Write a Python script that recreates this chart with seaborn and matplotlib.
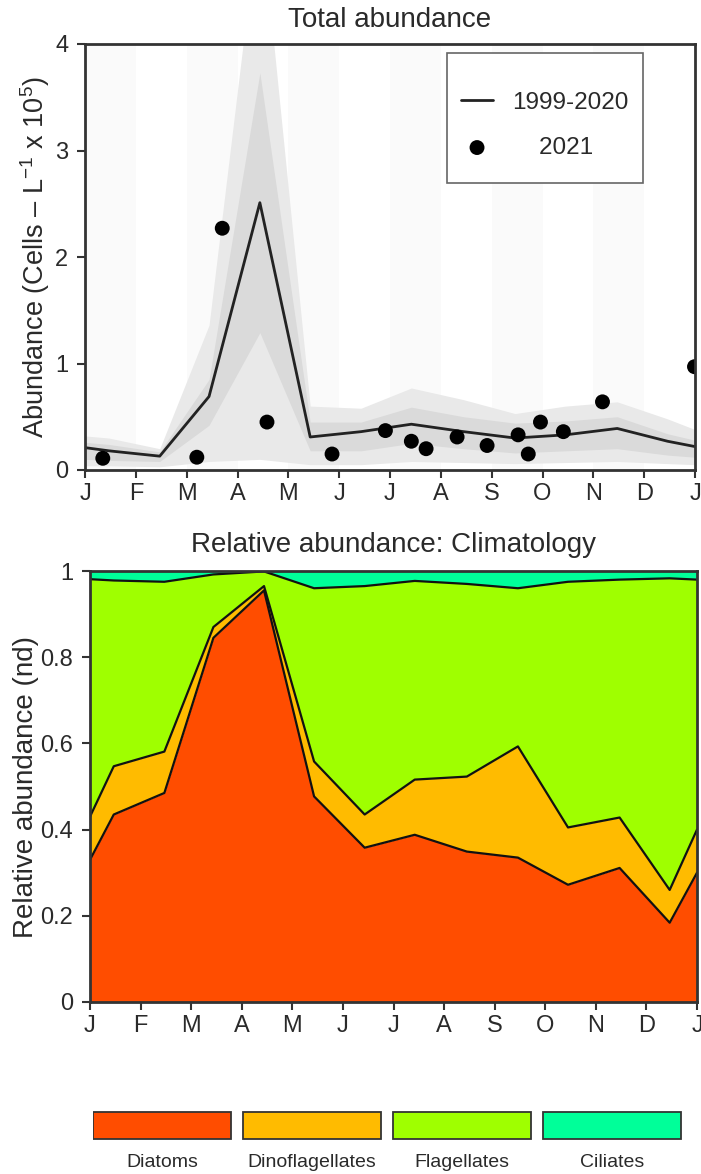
import matplotlib
matplotlib.use('Agg')
import matplotlib.pyplot as plt
from matplotlib.patches import Rectangle
import seaborn as sns
import pandas as pd

# eje de meses (inicio de cada mes) y posiciones de medio mes
month_labels = ['J', 'F', 'M', 'A', 'M', 'J', 'J', 'A', 'S', 'O', 'N', 'D', 'J']
clim_x = [0, 0.47, 1.47, 2.44, 3.44, 4.43, 5.43, 6.42, 7.45, 8.46, 9.45, 10.47, 11.46, 12]

# climatologia 1999-2020 (Cells L-1 x 1e5)
clim_mean = [0.21, 0.18, 0.13, 0.69, 2.51, 0.31, 0.36, 0.43, 0.36, 0.30, 0.33, 0.39, 0.27, 0.22]
inner_lo = [0.10, 0.09, 0.08, 0.42, 1.29, 0.18, 0.18, 0.25, 0.20, 0.16, 0.18, 0.20, 0.14, 0.12]
inner_hi = [0.26, 0.24, 0.17, 0.85, 3.73, 0.45, 0.45, 0.59, 0.50, 0.44, 0.46, 0.50, 0.34, 0.28]
outer_lo = [0.04, 0.04, 0.03, 0.08, 0.10, 0.05, 0.05, 0.08, 0.07, 0.06, 0.07, 0.08, 0.06, 0.05]
outer_hi = [0.32, 0.30, 0.20, 1.36, 5.30, 0.60, 0.58, 0.77, 0.66, 0.53, 0.60, 0.64, 0.48, 0.38]

# muestras 2021
obs_x = [0.35, 2.20, 2.70, 3.58, 4.86, 5.91, 6.42, 6.71, 7.32, 7.91, 8.52, 8.72, 8.96, 9.41, 10.18, 11.99]
obs_y = [0.11, 0.12, 2.27, 0.45, 0.15, 0.37, 0.27, 0.20, 0.31, 0.23, 0.33, 0.15, 0.45, 0.36, 0.64, 0.97]

# abundancia relativa acumulada (limites superiores de cada grupo)
groups = ['Diatoms', 'Dinoflagellates', 'Flagellates', 'Ciliates']
colors = ['#ff4d00', '#ffbb00', '#9fff00', '#00ff99']
diatoms_top = [0.33, 0.435, 0.485, 0.845, 0.955, 0.477, 0.358, 0.388, 0.349, 0.335, 0.272, 0.311, 0.184, 0.30]
dino_top = [0.43, 0.547, 0.581, 0.87, 0.965, 0.558, 0.435, 0.516, 0.523, 0.593, 0.405, 0.428, 0.26, 0.40]
flag_top = [0.981, 0.978, 0.975, 0.992, 0.999, 0.960, 0.965, 0.977, 0.970, 0.960, 0.975, 0.980, 0.983, 0.980]
cil_top = [1.0] * len(clim_x)

sns.set_theme(style='white')
plt.rcParams['font.family'] = ['Liberation Sans', 'DejaVu Sans']
plt.rcParams['mathtext.fontset'] = 'custom'
plt.rcParams['mathtext.rm'] = 'Liberation Sans'
plt.rcParams['mathtext.default'] = 'regular'
txt = '#2a2a2a'
edge = '#333333'

W, H = 701, 1174
fig = plt.figure(figsize=(W / 100, H / 100), dpi=100)
ax1 = fig.add_axes([85 / W, 1 - 470 / H, 610 / W, 426 / H])
ax2 = fig.add_axes([90 / W, 1 - 1002 / H, 607 / W, 431 / H])

# ---- panel superior
for m in range(0, 12, 2):
    ax1.axvspan(m, m + 1, color='#fafafa', lw=0, zorder=0)
ax1.fill_between(clim_x, outer_lo, outer_hi, color='#e9e9e9', lw=0, zorder=1)
ax1.fill_between(clim_x, inner_lo, inner_hi, color='#dadada', lw=0, zorder=2)
df_clim = pd.DataFrame({'x': clim_x, 'y': clim_mean})
sns.lineplot(data=df_clim, x='x', y='y', ax=ax1, color='#222222', lw=2, zorder=3, label='1999-2020')
df_obs = pd.DataFrame({'x': obs_x, 'y': obs_y})
sns.scatterplot(data=df_obs, x='x', y='y', ax=ax1, color='black', s=115, edgecolor='none',
                zorder=4, label='    2021')
ax1.set_xlim(0, 12)
ax1.set_ylim(0, 4)
ax1.set_yticks([0, 1, 2, 3, 4])
ax1.set_yticklabels(['0', '1', '2', '3', '4'])
ax1.set_title('Total abundance', fontsize=20, color=txt, pad=12)
ax1.set_ylabel('Abundance (Cells – L$^{-1}$ x 10$^{5}$)', fontsize=19.5, color=txt, labelpad=2)
ax1.set_xlabel('')

# caja de la leyenda (marco aparte para fijar su alto)
ax1.add_patch(Rectangle((0.593, 0.674), 0.322, 0.305, transform=ax1.transAxes,
                        facecolor='white', edgecolor='#666666', lw=1.2, zorder=6))
leg = ax1.legend(loc='center', bbox_to_anchor=(0.754, 0.809), fontsize=17.5, frameon=False,
                 labelspacing=0.95, handlelength=1.3, handletextpad=0.8, borderaxespad=0)
leg.set_zorder(7)
for t in leg.get_texts():
    t.set_color(txt)

# ---- panel inferior
bounds = [[0.0] * len(clim_x), diatoms_top, dino_top, flag_top, cil_top]
for i, g in enumerate(groups):
    ax2.fill_between(clim_x, bounds[i], bounds[i + 1], color=colors[i], lw=0, zorder=1)
for b in bounds[1:4]:
    ax2.plot(clim_x, b, color='#111111', lw=1.6, zorder=2)
ax2.set_xlim(0, 12)
ax2.set_ylim(0, 1)
ax2.set_yticks([0, 0.2, 0.4, 0.6, 0.8, 1])
ax2.set_yticklabels(['0', '0.2', '0.4', '0.6', '0.8', '1'])
ax2.set_title('Relative abundance: Climatology', fontsize=20, color=txt, pad=14)
ax2.set_ylabel('Relative abundance (nd)', fontsize=20, color=txt, labelpad=1)

for ax in (ax1, ax2):
    ax.set_xticks(range(13))
    ax.set_xticklabels(month_labels)
    ax.tick_params(axis='both', direction='out', length=6, width=1.5, color=edge,
                   labelsize=17, labelcolor=txt, bottom=True, left=True)
    ax.tick_params(axis='y', pad=6)
    ax.tick_params(axis='x', pad=3)
    for s in ax.spines.values():
        s.set_color(edge)
        s.set_linewidth(2)
        s.set_zorder(5)

# ---- leyenda inferior
ax3 = fig.add_axes([93 / W, 0, 590 / W, 70 / H])
ax3.set_xlim(0, 3.93)
ax3.set_ylim(0, 1)
ax3.axis('off')
for i, g in enumerate(groups):
    ax3.add_patch(Rectangle((i, 0.5), 0.92, 0.38, facecolor=colors[i], edgecolor=edge, lw=1.3))
    ax3.text(i + 0.46, 0.16, g, ha='center', va='center', fontsize=14, color=txt)

fig.savefig('out.png', dpi=100)
